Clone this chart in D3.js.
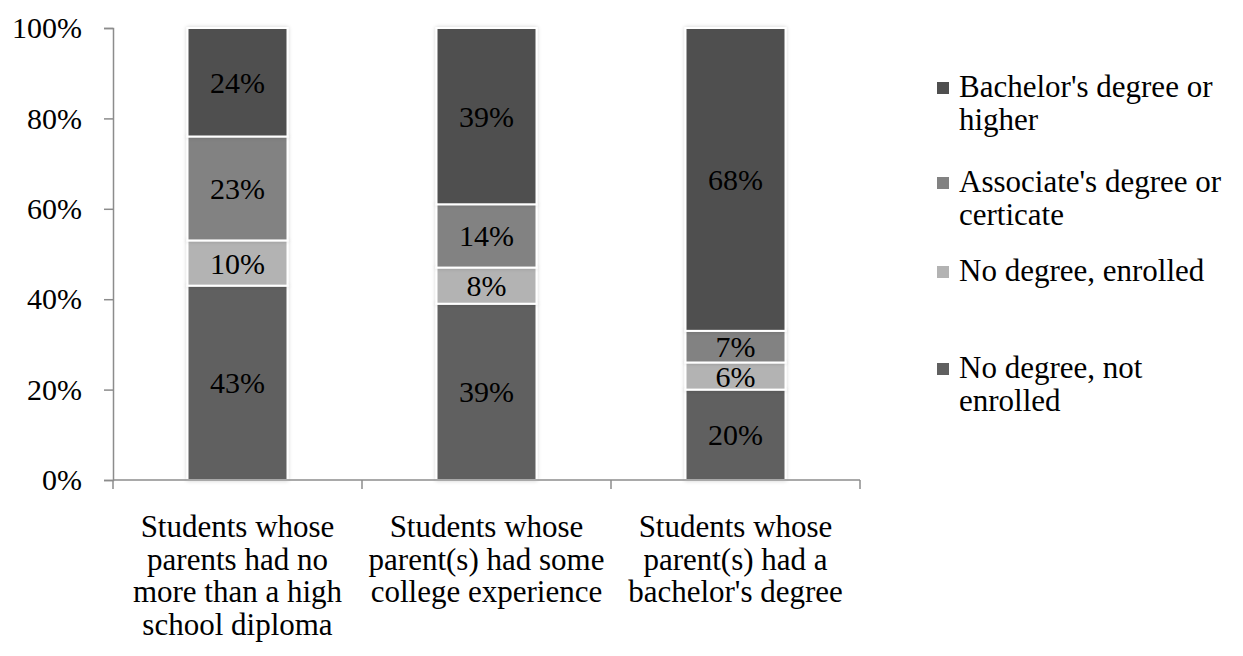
<!DOCTYPE html>
<html>
<head>
<meta charset="utf-8">
<script src="https://cdn.jsdelivr.net/npm/d3@7"></script>
<style>
  html, body { margin: 0; padding: 0; background: #fff; }
  svg { display: block; font-family: "Liberation Serif", "Times New Roman", serif; }
</style>
</head>
<body>
<svg id="chart" width="1243" height="656"></svg>
<script>
// Parent education groups (x axis), each label split into lines
const categories = [
  ["Students whose", "parents had no", "more than a high", "school diploma"],
  ["Students whose", "parent(s) had some", "college experience"],
  ["Students whose", "parent(s) had a", "bachelor's degree"]
];

// Outcome series, stacked from the bottom up (percent)
const seriesNames = [
  "No degree, not enrolled",
  "No degree, enrolled",
  "Associate's degree or certicate",
  "Bachelor's degree or higher"
];
const notEnrolled = [43, 39, 20];
const enrolled    = [10, 8, 6];
const associate   = [23, 14, 7];
const bachelor    = [24, 39, 68];

const yTicks = [0, 20, 40, 60, 80, 100];

// Legend entries, top to bottom, with line breaks
const legendLines = [
  ["Bachelor's degree or", "higher"],
  ["Associate's degree or", "certicate"],
  ["No degree, enrolled"],
  ["No degree, not", "enrolled"]
];

const colors = {
  "No degree, not enrolled": "#606060",
  "No degree, enrolled": "#b3b3b3",
  "Associate's degree or certicate": "#828282",
  "Bachelor's degree or higher": "#4f4f4f"
};
const legendColors = ["#4f4f4f", "#828282", "#b3b3b3", "#606060"];

const FONT = 30;      // tick and value labels
const FONT_TXT = 31;  // category and legend labels

const values = [notEnrolled, enrolled, associate, bachelor];
const rows = categories.map((c, i) => {
  const r = { idx: i };
  seriesNames.forEach((s, k) => r[s] = values[k][i]);
  return r;
});

const svg = d3.select("#chart");
const margin = { left: 113, top: 28, right: 383, bottom: 176 };
const W = 1243, H = 656;
const plotW = W - margin.left - margin.right;   // 747
const plotH = H - margin.top - margin.bottom;   // 452

const x = d3.scaleBand().domain(d3.range(categories.length)).range([0, plotW]);
const y = d3.scaleLinear().domain([0, 100]).range([plotH, 0]).clamp(true);
const barW = 100;

// soft shadow around each bar segment
const defs = svg.append("defs");
const f = defs.append("filter").attr("id", "shadow").attr("x", "-20%").attr("y", "-20%").attr("width", "140%").attr("height", "140%");
f.append("feGaussianBlur").attr("in", "SourceAlpha").attr("stdDeviation", 2).attr("result", "b");
f.append("feComponentTransfer").attr("in", "b").attr("result", "s")
  .append("feFuncA").attr("type", "linear").attr("slope", 0.18);
const m = f.append("feMerge");
m.append("feMergeNode").attr("in", "s");
m.append("feMergeNode").attr("in", "SourceGraphic");

const g = svg.append("g").attr("transform", `translate(${margin.left},${margin.top})`);

const stacked = d3.stack().keys(seriesNames)(rows);

// bars
stacked.forEach(layer => {
  layer.forEach((d, i) => {
    const bx = x(i) + (x.bandwidth() - barW) / 2;
    g.append("rect")
      .attr("x", bx)
      .attr("y", y(d[1]))
      .attr("width", barW)
      .attr("height", y(d[0]) - y(d[1]))
      .attr("fill", colors[layer.key])
      .attr("stroke", "#ffffff")
      .attr("stroke-width", 2)
      .attr("filter", "url(#shadow)");
  });
});

// value labels
stacked.forEach(layer => {
  layer.forEach((d, i) => {
    const v = d[1] - d[0];
    const cy = (y(d[0]) + y(d[1])) / 2;
    g.append("text")
      .attr("x", x(i) + x.bandwidth() / 2)
      .attr("y", cy)
      .attr("dy", "0.35em")
      .attr("text-anchor", "middle")
      .attr("font-size", FONT)
      .attr("fill", "#000")
      .text(v + "%");
  });
});

// y axis
const yAxis = d3.axisLeft(y).tickValues(yTicks).tickFormat(d => d + "%").tickSize(9).tickPadding(22);
const ya = g.append("g").call(yAxis);
ya.attr("font-family", null).attr("font-size", null);
ya.select(".domain").attr("stroke", "#8c8c8c").attr("stroke-width", 1.5);
ya.selectAll(".tick line").attr("stroke", "#8c8c8c").attr("stroke-width", 1.5);
ya.selectAll(".tick text").attr("font-size", FONT).attr("fill", "#000");

// x axis baseline with boundary ticks
g.append("line").attr("x1", 0).attr("x2", plotW).attr("y1", plotH).attr("y2", plotH)
  .attr("stroke", "#8c8c8c").attr("stroke-width", 1.5);
d3.range(categories.length + 1).forEach(i => {
  const tx = i < categories.length ? x(i) : plotW;
  g.append("line").attr("x1", tx).attr("x2", tx).attr("y1", plotH).attr("y2", plotH + 9)
    .attr("stroke", "#8c8c8c").attr("stroke-width", 1.5);
});

// category labels
categories.forEach((lines, i) => {
  const cx = x(i) + x.bandwidth() / 2;
  const t = g.append("text")
    .attr("x", cx)
    .attr("y", plotH + 57)
    .attr("text-anchor", "middle")
    .attr("font-size", FONT_TXT)
    .attr("fill", "#000");
  lines.forEach((ln, k) => {
    t.append("tspan").attr("x", cx).attr("dy", k === 0 ? 0 : 32.7).text(ln);
  });
});

// legend
const legendTop = [97, 192, 281, 378];
const lg = svg.append("g");
legendLines.forEach((lines, i) => {
  lg.append("rect")
    .attr("x", 937).attr("y", legendTop[i] - 15)
    .attr("width", 12).attr("height", 12)
    .attr("fill", legendColors[i]);
  const t = lg.append("text")
    .attr("x", 959).attr("y", legendTop[i])
    .attr("font-size", FONT_TXT).attr("fill", "#000");
  lines.forEach((ln, k) => {
    t.append("tspan").attr("x", 959).attr("dy", k === 0 ? 0 : 32.5).text(ln);
  });
});
</script>
</body>
</html>
